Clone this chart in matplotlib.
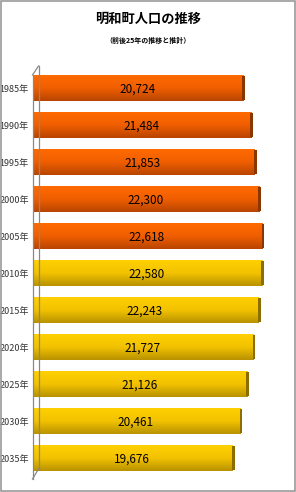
import numpy as np
import matplotlib.pyplot as plt
from matplotlib.colors import LinearSegmentedColormap
from matplotlib.lines import Line2D
from matplotlib.patches import Rectangle

plt.rcParams['font.family'] = ['Liberation Sans Narrow', 'Noto Sans CJK JP', 'DejaVu Sans']

# data
years = ['1985年', '1990年', '1995年', '2000年', '2005年', '2010年',
         '2015年', '2020年', '2025年', '2030年', '2035年']
population = [20724, 21484, 21853, 22300, 22618, 22580,
              22243, 21727, 21126, 20461, 19676]
n_actual = 5  # 1985-2005 actual, rest projected

fig = plt.figure(figsize=(2.96, 4.92), dpi=100)
ax = fig.add_axes([0.1115, 0.0315, 0.858, 0.8272])

cmap_orange = LinearSegmentedColormap.from_list('o', ['#FF6A00', '#F05E00', '#B84500'])
cmap_yellow = LinearSegmentedColormap.from_list('y', ['#FFD000', '#F2C200', '#B89200'])
grad = np.linspace(0, 1, 64).reshape(-1, 1)

ypos = np.arange(len(years))
bars = ax.barh(ypos, population, height=0.68, color='none', edgecolor='none')
for i, (rect, val) in enumerate(zip(bars, population)):
    cm = cmap_orange if i < n_actual else cmap_yellow
    cap = '#8A3600' if i < n_actual else '#8C6E00'
    y0, h = rect.get_y(), rect.get_height()
    im = ax.imshow(grad, cmap=cm, aspect='auto', extent=(0, val, y0 + h, y0),
                   zorder=2, interpolation='bilinear')
    im.set_clip_path(rect)
    ax.barh(ypos[i], 280, left=val - 120, height=h * 0.92, color=cap, zorder=3)
    ax.text(val / 2 - 100, ypos[i] + 0.04, f'{val:,}', ha='center', va='center',
            fontsize=8.5, color='black', zorder=4)

ax.set_xlim(0, 25000)
ax.set_ylim(len(years) - 0.5, -0.5)
ax.set_yticks(ypos)
ax.set_yticklabels(years, fontsize=6.5, color='#333333')
ax.tick_params(axis='y', length=0, pad=3)
ax.set_xticks([])
for s in ax.spines.values():
    s.set_visible(False)

# 3D-ish wall lines
g = '#888888'
W, H = 296.0, 492.0
def fl(x1, y1, x2, y2):
    fig.add_artist(Line2D([x1 / W, x2 / W], [1 - y1 / H, 1 - y2 / H],
                          color=g, lw=0.9, transform=fig.transFigure))
fl(32.5, 75, 32.5, 479)
fl(38.5, 66, 38.5, 469)
fl(32.5, 75, 38.5, 66)
fl(32.5, 479, 38.5, 469)

# outer border
fig.add_artist(Rectangle((0.002, 0.003), 0.994, 0.994, fill=False,
                         edgecolor='#999999', lw=1.2, transform=fig.transFigure))

fig.text(0.5, 0.962, '明和町人口の推移', ha='center', va='center',
         fontsize=9.5, fontweight='bold', family=['Noto Sans CJK JP'])
fig.text(0.5, 0.918, '（前後25年の推移と推計）', ha='center', va='center',
         fontsize=5, fontweight='bold', family=['Noto Sans CJK JP'])

fig.savefig('out.png', dpi=100)
